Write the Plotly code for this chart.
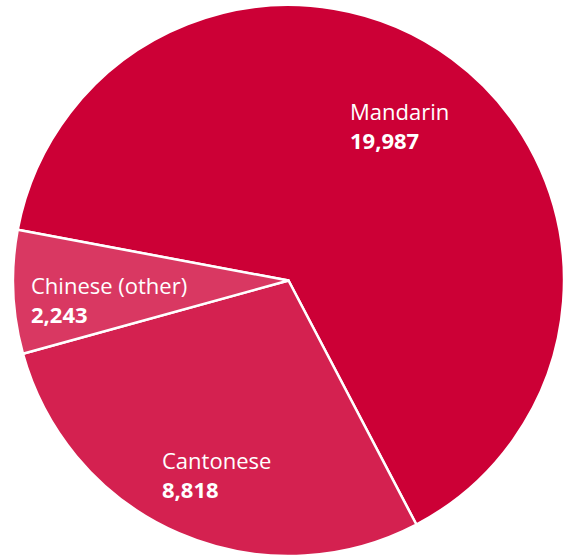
import plotly.graph_objects as go

# Data
languages = ["Mandarin", "Cantonese", "Chinese (other)"]
speakers = [19987, 8818, 2243]

# Styles
slice_colors = ["#CC0036", "#D42150", "#D93862"]
label_pos = [(348, 94), (160, 443), (29, 268)]  # pixel (left, top) of each label block

W, H = 570, 556

fig = go.Figure(
    go.Pie(
        labels=languages,
        values=speakers,
        sort=False,
        direction="clockwise",
        rotation=-79.4,
        marker=dict(colors=slice_colors, line=dict(color="white", width=2.5)),
        textinfo="none",
        hoverinfo="label+value",
        domain=dict(x=[11 / W, 566 / W], y=[0, 1 - 5 / H]),
        showlegend=False,
    )
)

for name, val, (px, py) in zip(languages, speakers, label_pos):
    fig.add_annotation(
        x=px / W,
        y=1 - py / H,
        xref="paper",
        yref="paper",
        xanchor="left",
        yanchor="top",
        align="left",
        showarrow=False,
        text=f"{name}<br><b>{val:,}</b>",
        font=dict(family="Open Sans, sans-serif", size=22, color="white"),
    )

fig.update_layout(
    width=W,
    height=H,
    margin=dict(l=0, r=0, t=0, b=0),
    paper_bgcolor="white",
    plot_bgcolor="white",
)

fig.write_html("out.html")
